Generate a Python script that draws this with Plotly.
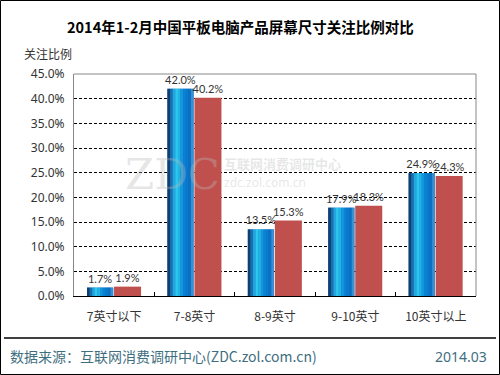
import plotly.graph_objects as go

categories = ["7英寸以下", "7-8英寸", "8-9英寸", "9-10英寸", "10英寸以上"]
series_a = [1.7, 42.0, 13.5, 17.9, 24.9]
series_b = [1.9, 40.2, 15.3, 18.3, 24.3]
y_ticks = [0, 5, 10, 15, 20, 25, 30, 35, 40, 45]

W, H = 500, 375
ML, MR, MT, MB = 74, 24, 74, 79
PW, PH = W - ML - MR, H - MT - MB


def px(x):
    return (x - ML) / PW


def py(y):
    return (H - MB - y) / PH


fig = go.Figure()

# blue cylinder-like bars built from strips
blue_off, blue_w = -0.338, 0.325
strip_colors = ["#123f6e", "#1a6fb0", "#22a6dc", "#2dc6ec", "#21b2e6",
                "#1496dc", "#0b82d2", "#0a78cc", "#0b70c2", "#3a8fd0"]
n = len(strip_colors)
lab_font = dict(size=11, color="#333333", family="Lato")
fig.add_trace(go.Bar(x=categories, y=series_a, offset=blue_off, width=blue_w,
                     marker=dict(color="#0f6fc0", line=dict(width=0)),
                     text=[f"{v:.1f}%" for v in series_a], textposition="outside",
                     constraintext="none", textfont=lab_font,
                     cliponaxis=False, showlegend=False))
for i, c in enumerate(strip_colors):
    fig.add_trace(go.Bar(x=categories, y=series_a, offset=blue_off + i * blue_w / n,
                         width=blue_w / n + 0.002,
                         marker=dict(color=c, line=dict(width=0)), showlegend=False,
                         hoverinfo="skip"))

fig.add_trace(go.Bar(x=categories, y=series_b, offset=-0.002, width=0.336,
                     marker=dict(color="#C0504D", line=dict(width=0)),
                     text=[f"{v:.1f}%" for v in series_b], textposition="outside",
                     constraintext="none", textfont=lab_font,
                     cliponaxis=False, showlegend=False))

fig.update_layout(
    width=W, height=H, barmode="overlay",
    margin=dict(l=ML, r=MR, t=MT, b=MB),
    paper_bgcolor="white", plot_bgcolor="white",
    font=dict(family="Noto Sans", color="#333333"),
    xaxis=dict(showline=True, linecolor="black", linewidth=1,
               tickson="boundaries", ticks="inside", ticklen=4, tickcolor="black",
               ticklabelstandoff=10,
               tickfont=dict(size=12, color="#333333", family="Noto Sans CJK SC"),
               showgrid=False),
    yaxis=dict(range=[0, 45], tickvals=y_ticks, ticktext=[f"{v:.1f}%" for v in y_ticks],
               showline=True, linecolor="#888888", linewidth=1,
               showgrid=True, gridcolor="black", griddash="3px,2px", gridwidth=1,
               zeroline=False, ticks="", ticklabelstandoff=6,
               tickfont=dict(size=12, color="#333333", family="Noto Sans")),
)

shapes = [
    dict(type="line", xref="paper", yref="paper", x0=0, x1=1, y0=1, y1=1,
         line=dict(color="#888888", width=1)),
    dict(type="line", xref="paper", yref="paper", x0=1, x1=1, y0=0, y1=1,
         line=dict(color="#888888", width=1)),
    dict(type="line", xref="paper", yref="paper", x0=px(4), x1=px(496), y0=py(338), y1=py(338),
         line=dict(color="black", width=1.5)),
    dict(type="rect", xref="paper", yref="paper", x0=px(0.5), x1=px(499.5), y0=py(374.5), y1=py(0.5),
         line=dict(color="black", width=1)),
]
fig.update_layout(shapes=shapes)

wm = "rgba(185,185,185,0.35)"
ann = [
    dict(text="<b>2014年1-2月中国平板电脑产品屏幕尺寸关注比例对比</b>", x=px(240), y=py(27),
         font=dict(size=14.5, color="black", family="Noto Sans CJK SC")),
    dict(text="关注比例", x=px(22), y=py(53), xanchor="left",
         font=dict(size=12, color="#333333", family="Noto Sans CJK SC")),
    dict(text="数据来源：互联网消费调研中心(ZDC.zol.com.cn)", x=px(8), y=py(356), xanchor="left",
         font=dict(size=14, color="#3f6f7f", family="Noto Sans CJK SC")),
    dict(text="2014.03", x=px(489), y=py(356), xanchor="right",
         font=dict(size=14, color="#3f6f7f", family="Noto Sans")),
    # watermark
    dict(text="ZDC", x=px(172), y=py(174),
         font=dict(size=42, color=wm, family="DejaVu Serif")),
    dict(text="<b>互联网消费调研中心</b>", x=px(222), y=py(163), xanchor="left",
         font=dict(size=13, color=wm, family="Noto Sans CJK SC")),
    dict(text="zdc.zol.com.cn", x=px(222), y=py(182), xanchor="left",
         font=dict(size=12, color=wm, family="Noto Sans")),
]
for a in ann:
    a.update(xref="paper", yref="paper", showarrow=False)
    a.setdefault("xanchor", "center")
    a.setdefault("yanchor", "middle")
fig.update_layout(annotations=ann)

fig.write_html("out.html", config={"displayModeBar": False},
               post_script="document.body.style.margin='0';")
